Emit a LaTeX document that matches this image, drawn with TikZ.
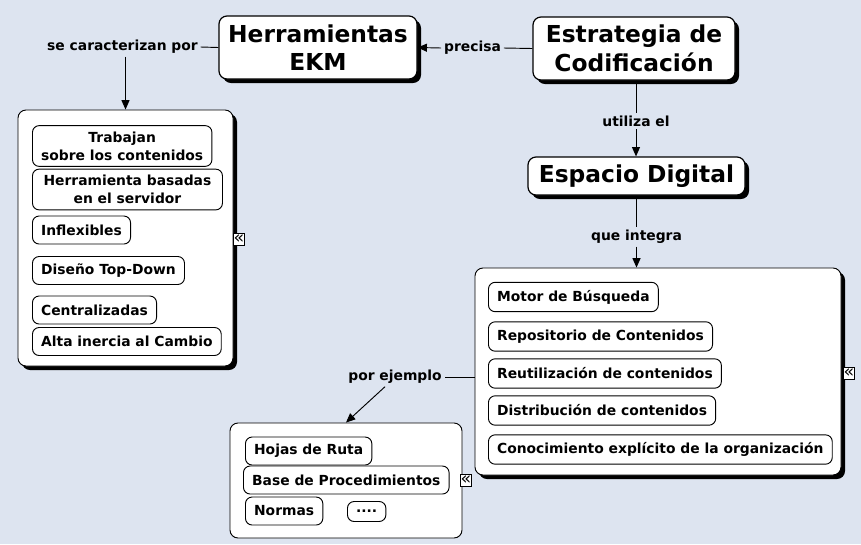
\documentclass[tikz,border=0pt]{standalone}
\usepackage{fontspec}
\setmainfont{DejaVu Sans}
\usepackage{tikz}
\usetikzlibrary{arrows.meta,shadows}
\definecolor{mapback}{HTML}{DDE4F0}

\begin{document}
\begin{tikzpicture}[x=0.75pt,y=-0.75pt,
  shadowed/.style={drop shadow={shadow xshift=3pt, shadow yshift=-3pt, opacity=1, fill=black}},
  concept/.style={draw, fill=white, rounded corners=6pt, line width=0.9pt, align=center, inner sep=0pt, shadowed,
    font=\bfseries\fontsize{17.5}{21.5}\selectfont},
  group/.style={draw, fill=white, rounded corners=6pt, line width=0.7pt, inner sep=0pt},
  item/.style={draw, fill=white, rounded corners=5pt, line width=0.7pt, anchor=west, align=center,
    inner xsep=6.5pt, minimum height=21pt, font=\bfseries\fontsize{10.4}{13.5}\selectfont},
  linklabel/.style={font=\bfseries\fontsize{10.4}{12}\selectfont, inner sep=2pt},
  fold/.style={draw, fill=white, line width=0.5pt, inner sep=0pt, minimum width=7.5pt, minimum height=9pt,
    font=\fontsize{13}{13}\selectfont},
  link/.style={line width=0.7pt},
  arrow/.style={link, -{Triangle[length=7pt,width=6pt]}}]
% Background
\fill[mapback] (0,0) rectangle (861,544);
% Main concepts
\node[concept, minimum width=148.5pt, minimum height=47.25pt] (ekm) at (318,47.5) {Herramientas\\EKM};
\node[concept, minimum width=151.5pt, minimum height=47.25pt] (estr) at (634,48.5) {Estrategia de\\Codificación};
\node[concept, minimum width=162.75pt, minimum height=28.5pt] (esp) at (636.5,176) {Espacio Digital};
% Groups
\node[group, shadowed, minimum width=161.25pt, minimum height=192pt] (rasgos) at (125.5,238) {};
\node[group, shadowed, minimum width=274.5pt, minimum height=155.25pt] (integra) at (658,371.5) {};
\node[group, minimum width=174pt, minimum height=86.25pt] (ejemplos) at (346,480.5) {};
% Left items
\node[item, inner ysep=4.5pt] (l1) at (32,146) {Trabajan\\sobre los contenidos};
\node[item, inner ysep=4.5pt, minimum width=142.5pt] (l2) at (32,189.5) {Herramienta basadas\\en el servidor};
\foreach \t/\y [count=\i from 3] in {Inflexibles/230, Diseño Top-Down/270.5, Centralizadas/310, Alta inercia al Cambio/341.5}
  \node[item] (l\i) at (32,\y) {\t};
% Right items
\foreach \t/\y [count=\i] in {Motor de Búsqueda/297, Repositorio de Contenidos/336.5, Reutilización de contenidos/373.5,
    Distribución de contenidos/410.5, Conocimiento explícito de la organización/449.5}
  \node[item, minimum height=22pt] (r\i) at (488,\y) {\t};
% Bottom items
\node[item] (hojas) at (245,451) {Hojas de Ruta};
\node[item] (base) at (243,480) {Base de Procedimientos};
\node[item] (normas) at (245,511) {Normas};
\node[item, minimum height=15pt] (mas) at (347,511.5) {....};
% Fold marks
\node[fold] (f1) at (239,239) {«};
\node[fold] (f2) at (849,373) {«};
\node[fold] (f3) at (466,480) {«};
% Link labels
\node[linklabel] (lcar) at (122.5,47) {se caracterizan por};
\node[linklabel] (lpre) at (472.5,48) {precisa};
\node[linklabel] (luti) at (636,121) {utiliza el};
\node[linklabel] (lque) at (636.5,237) {que integra};
\node[linklabel] (lpor) at (395,377) {por ejemplo};
% Connectors
\draw[link] (ekm.west) -- (lcar.east);
\draw[arrow] (rasgos.north |- lcar.south) -- (rasgos.north);
\draw[link] (estr.west) -- (lpre.east);
\draw[arrow] (lpre.west) -- (ekm.east);
\draw[link] (estr.south -| luti) -- (luti.north);
\draw[arrow] (luti.south) -- (esp.north -| luti);
\draw[link] (esp.south -| lque) -- (lque.north);
\draw[arrow] (lque.south) -- (integra.north -| lque);
\draw[link] (integra.west |- lpor) -- (lpor.east);
\draw[arrow] ([xshift=-7.5pt]lpor.south) -- (ejemplos.north);
\end{tikzpicture}
\end{document}
